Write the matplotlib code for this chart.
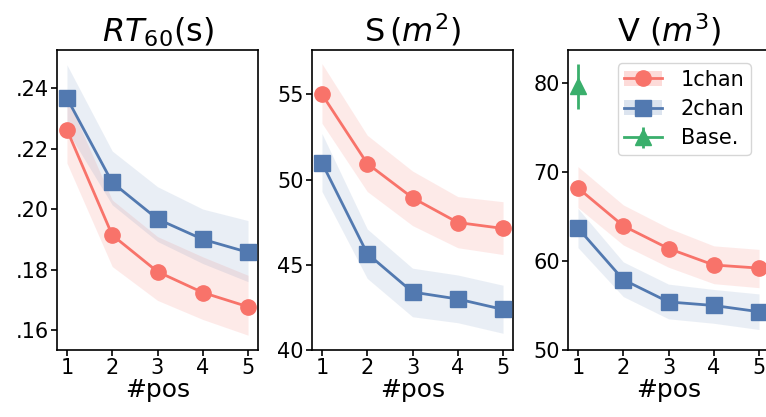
import numpy as np
import matplotlib
matplotlib.use("Agg")
import matplotlib.pyplot as plt
from matplotlib.lines import Line2D
from matplotlib.patches import Patch

RED = "#f8736a"
BLUE = "#5279b0"
GREEN = "#3aaf6c"

pos = [1, 2, 3, 4, 5]

# RT60 (s)
rt_1chan = [0.2262, 0.1914, 0.1793, 0.1724, 0.1677]
rt_1chan_lo = [0.2152, 0.1810, 0.1698, 0.1635, 0.1583]
rt_1chan_hi = [0.2370, 0.2030, 0.1909, 0.1842, 0.1781]
rt_2chan = [0.2367, 0.2088, 0.1967, 0.1900, 0.1857]
rt_2chan_lo = [0.2260, 0.2014, 0.1893, 0.1820, 0.1760]
rt_2chan_hi = [0.2477, 0.2192, 0.2074, 0.2000, 0.1962]

# S (m^2)
s_1chan = [55.0, 50.94, 48.93, 47.48, 47.13]
s_1chan_lo = [53.3, 49.3, 47.3, 46.0, 45.6]
s_1chan_hi = [56.8, 52.6, 50.5, 49.0, 48.7]
s_2chan = [50.98, 45.66, 43.4, 42.99, 42.38]
s_2chan_lo = [49.3, 44.2, 41.95, 41.6, 40.98]
s_2chan_hi = [52.7, 47.1, 44.8, 44.4, 43.8]

# V (m^3)
v_1chan = [68.2, 63.95, 61.4, 59.55, 59.2]
v_1chan_lo = [66.0, 61.8, 59.3, 57.45, 57.0]
v_1chan_hi = [70.6, 66.3, 63.7, 61.7, 61.3]
v_2chan = [63.7, 57.9, 55.4, 55.0, 54.3]
v_2chan_lo = [61.5, 56.0, 53.5, 53.0, 52.3]
v_2chan_hi = [65.9, 59.9, 57.4, 56.8, 56.3]
v_base = 79.6
v_base_err = 2.5

plt.rcParams['font.family'] = ['DejaVu Sans']
plt.rcParams['mathtext.fontset'] = 'dejavusans'

fig = plt.figure(figsize=(7.66, 4.17), dpi=100)
lefts = [57 / 766, 312 / 766, 568 / 766]
w = 201 / 766
bottom = 67 / 417
h = 300 / 417
axes = [fig.add_axes([l, bottom, w, h]) for l in lefts]

panels = [
    (rt_1chan, rt_1chan_lo, rt_1chan_hi, rt_2chan, rt_2chan_lo, rt_2chan_hi,
     r"$RT_{60}$(s)", (0.1534, 0.2526), [0.16, 0.18, 0.20, 0.22, 0.24],
     [".16", ".18", ".20", ".22", ".24"]),
    (s_1chan, s_1chan_lo, s_1chan_hi, s_2chan, s_2chan_lo, s_2chan_hi,
     r"S$\,$($m^2$)", (40, 57.6), [40, 45, 50, 55], ["40", "45", "50", "55"]),
    (v_1chan, v_1chan_lo, v_1chan_hi, v_2chan, v_2chan_lo, v_2chan_hi,
     r"V ($m^3$)", (50, 83.7), [50, 60, 70, 80], ["50", "60", "70", "80"]),
]

for ax, (r, rlo, rhi, b, blo, bhi, title, ylim, yt, ytl) in zip(axes, panels):
    ax.fill_between(pos, rlo, rhi, color=RED, alpha=0.15, linewidth=0)
    ax.fill_between(pos, blo, bhi, color=BLUE, alpha=0.12, linewidth=0)
    ax.plot(pos, r, color=RED, marker="o", markersize=11, linewidth=2, clip_on=False, zorder=3)
    ax.plot(pos, b, color=BLUE, marker="s", markersize=11, linewidth=2, clip_on=False, zorder=3)
    ax.set_xlim(0.78, 5.22)
    ax.set_ylim(*ylim)
    ax.set_xticks(pos)
    ax.set_yticks(yt)
    ax.set_yticklabels(ytl)
    ax.tick_params(labelsize=15, length=4, width=1.2, pad=2)
    ax.set_xlabel("#pos", fontsize=18, labelpad=0)
    ax.set_title(title, fontsize=23, pad=6)
    for s in ax.spines.values():
        s.set_linewidth(1.2)

base = axes[2].errorbar([1], [v_base], yerr=[v_base_err], color=GREEN, marker="^",
                        markersize=11, linewidth=2, elinewidth=2, capsize=0,
                        clip_on=False, zorder=3)

handles = [
    (Patch(color=RED, alpha=0.25, linewidth=0),
     Line2D([], [], color=RED, marker="o", markersize=11, linewidth=2)),
    (Patch(color=BLUE, alpha=0.2, linewidth=0),
     Line2D([], [], color=BLUE, marker="s", markersize=11, linewidth=2)),
    base,
]
axes[2].legend(handles, ["1chan", "2chan", "Base."], loc="upper right",
               fontsize=15, handlelength=1.8, borderpad=0.3, labelspacing=0.45,
               handletextpad=0.9, bbox_to_anchor=(0.96, 0.99))

fig.savefig("out.png", dpi=100)
